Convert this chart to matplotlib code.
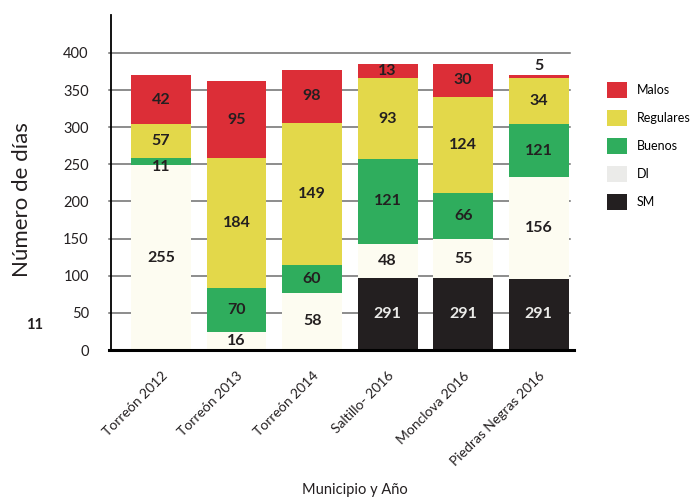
import numpy as np
import matplotlib
matplotlib.use("Agg")
import matplotlib.pyplot as plt
from matplotlib.patches import Patch

plt.rcParams['font.family'] = ['Lato', 'DejaVu Sans']

# categories and stacked segment heights (as drawn in the picture)
municipios = ["Torreón 2012", "Torreón 2013", "Torreón 2014", "Saltillo- 2016",
              "Monclova 2016", "Piedras Negras 2016"]
sm = [0, 0, 0, 97, 97, 96]
di = [249, 24, 77, 46, 52, 137]
buenos = [10, 60, 38, 114, 62, 71]
regulares = [45, 174, 191, 109, 130, 62]
malos = [66, 104, 71, 19, 44, 4]

# numbers printed on the segments
sm_lbl = ["", "", "", "291", "291", "291"]
di_lbl = ["255", "16", "58", "48", "55", "156"]
buenos_lbl = ["11", "70", "60", "121", "66", "121"]
regulares_lbl = ["57", "184", "149", "93", "124", "34"]
malos_lbl = ["42", "95", "98", "13", "30", "5"]

yticks = [0, 50, 100, 150, 200, 250, 300, 350, 400]

series = [
    ("SM", sm, sm_lbl, "#231f20", "#ebebe9"),
    ("DI", di, di_lbl, "#fdfcf1", "#231f20"),
    ("Buenos", buenos, buenos_lbl, "#2fad5d", "#231f20"),
    ("Regulares", regulares, regulares_lbl, "#e3d84a", "#231f20"),
    ("Malos", malos, malos_lbl, "#dc2e37", "#231f20"),
]
legend_colors = {"SM": "#231f20", "DI": "#ebebe9", "Buenos": "#2fad5d",
                 "Regulares": "#e3d84a", "Malos": "#dc2e37"}

fig = plt.figure(figsize=(6.95, 5), dpi=100)
ax = fig.add_axes([111/695, 0.3, 461/695, 0.67])

x = np.arange(len(municipios))
bottom = np.zeros(len(municipios))
for name, vals, lbls, col, tcol in series:
    vals = np.array(vals, dtype=float)
    ax.bar(x, vals, 0.79, bottom=bottom, color=col, zorder=2)
    for i in range(len(x)):
        if lbls[i] == "":
            continue
        yc = bottom[i] + vals[i] / 2
        if vals[i] < 8:
            yc = bottom[i] + vals[i] + 12
        elif vals[i] < 15:
            yc = bottom[i] - 3
        ax.text(x[i], yc, lbls[i], ha="center", va="center", fontsize=11.5,
                fontweight="bold", color=tcol, zorder=3)
    bottom += vals

for t in yticks[1:]:
    ax.plot([-0.69, 5.41], [t, t], color="#6e6e6e", lw=1.1, zorder=1,
            clip_on=False)

ax.set_xlim(-0.662, 5.44)
ax.set_ylim(0, 451)
ax.set_yticks(yticks)
ax.tick_params(axis="y", length=0, pad=16, labelsize=10.5, colors="#231f20")
ax.tick_params(axis="x", length=0, pad=14, labelsize=10, colors="#231f20")
ax.set_xticks(x)
ax.set_xticklabels(municipios, rotation=45, ha="right", rotation_mode="anchor")

for s in ["top", "right"]:
    ax.spines[s].set_visible(False)
ax.spines["left"].set_linewidth(1.3)
ax.spines["bottom"].set_linewidth(2.2)
ax.spines["bottom"].set_bounds(-0.69, 5.47)

fig.text(22/695, 0.6, "Número de días", rotation=90, ha="center", va="center",
         fontsize=16, color="#231f20")
fig.text(355/695, 1 - 490/500, "Municipio y Año", ha="center", va="center",
         fontsize=10.5, color="#231f20")
fig.text(35/695, 1 - 325/500, "11", ha="center", va="center", fontsize=10.5,
         fontweight="bold", color="#231f20")

order = ["Malos", "Regulares", "Buenos", "DI", "SM"]
handles = [Patch(facecolor=legend_colors[n], edgecolor="none") for n in order]
fig.legend(handles, order, loc="upper left", bbox_to_anchor=(607/695, 1 - 82/500),
           bbox_transform=fig.transFigure, frameon=False, fontsize=9,
           handlelength=1.6, handleheight=1.6, labelspacing=0.95,
           handletextpad=0.75, borderpad=0, borderaxespad=0)

fig.savefig("out.png", dpi=100, facecolor="white")
